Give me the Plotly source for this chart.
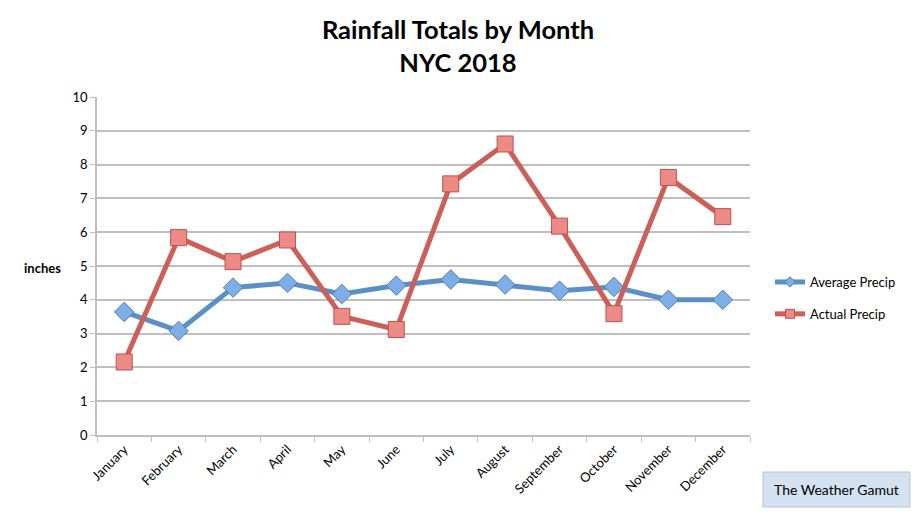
import plotly.graph_objects as go

months = ["January", "February", "March", "April", "May", "June", "July",
          "August", "September", "October", "November", "December"]
average_precip = [3.64, 3.08, 4.36, 4.50, 4.17, 4.42, 4.60, 4.45, 4.27, 4.38, 4.00, 4.00]
actual_precip = [2.16, 5.84, 5.13, 5.77, 3.51, 3.12, 7.43, 8.61, 6.18, 3.59, 7.62, 6.46]
y_ticks = list(range(0, 11))

FONT = "Lato, 'Open Sans', sans-serif"
W, H = 911, 506           # page body has an 8px margin
L, T, R, B = 89, 89, 169, 79
PW, PH = W - L - R, H - T - B

def px(x):
    return (x - L) / PW

def py(y):
    return (H - B - y) / PH

BLUE_LINE, BLUE_FILL, BLUE_EDGE = "#5b8fc7", "#7eaee6", "#4f7fb8"
RED_LINE, RED_FILL, RED_EDGE = "#cc5f58", "#ec8b86", "#c0504d"

fig = go.Figure()
fig.add_trace(go.Scatter(
    x=months, y=average_precip, name="Average Precip", mode="lines+markers",
    showlegend=False,
    line=dict(color=BLUE_LINE, width=5),
    marker=dict(symbol="diamond", size=15, color=BLUE_FILL,
                line=dict(color=BLUE_EDGE, width=1)),
))
fig.add_trace(go.Scatter(
    x=months, y=actual_precip, name="Actual Precip", mode="lines+markers",
    showlegend=False,
    line=dict(color=RED_LINE, width=5),
    marker=dict(symbol="square", size=16, color=RED_FILL,
                line=dict(color=RED_EDGE, width=1)),
))
# legend entries with smaller markers
fig.add_trace(go.Scatter(
    x=[None], y=[None], name="Average Precip", mode="lines+markers",
    legendgroup="a", line=dict(color=BLUE_LINE, width=5),
    marker=dict(symbol="diamond", size=8, color=BLUE_FILL,
                line=dict(color=BLUE_EDGE, width=1)),
))
fig.add_trace(go.Scatter(
    x=[None], y=[None], name="Actual Precip", mode="lines+markers",
    legendgroup="b", line=dict(color=RED_LINE, width=5),
    marker=dict(symbol="square", size=9, color=RED_FILL,
                line=dict(color=RED_EDGE, width=1)),
))

fig.update_layout(
    width=W, height=H,
    margin=dict(l=L, r=R, t=T, b=B),
    paper_bgcolor="white", plot_bgcolor="white",
    font=dict(family=FONT, size=13, color="black"),
    title=dict(text="<b>Rainfall Totals by Month<br>NYC 2018</b>",
               x=450 / W, xref="container", xanchor="center",
               y=1 - 31 / H, yref="container", yanchor="top",
               font=dict(family=FONT, size=25.5, color="black")),
    showlegend=True,
    legend=dict(x=px(762), y=py(290), xanchor="left", yanchor="middle",
                font=dict(family=FONT, size=13, color="black"),
                tracegroupgap=12, itemwidth=30,
                bgcolor="rgba(0,0,0,0)"),
    xaxis=dict(
        type="category", showgrid=False, showline=True, linecolor="#bfbfbf",
        linewidth=1.5, ticks="outside", tickson="boundaries", ticklen=5,
        tickcolor="#bfbfbf", tickangle=-45,
        tickfont=dict(family=FONT, size=13, color="black"),
        range=[-0.5, 11.5],
    ),
    yaxis=dict(
        range=[0, 10], tickvals=y_ticks, showgrid=True, gridcolor="#bfbfbf",
        gridwidth=1.5, showline=True, linecolor="#bfbfbf", linewidth=1.5,
        ticks="outside", ticklen=5, tickcolor="#bfbfbf", zeroline=False,
        tickfont=dict(family=FONT, size=13, color="black"),
    ),
)

fig.add_annotation(text="<b>inches</b>", xref="paper", yref="paper",
                   x=px(34), y=py(260), xanchor="center", yanchor="middle",
                   showarrow=False, font=dict(family=FONT, size=13, color="black"))

# watermark box
fig.add_shape(type="rect", xref="paper", yref="paper",
              x0=px(755), x1=px(902), y0=py(499), y1=py(464),
              fillcolor="#d4e1f1", line=dict(color="#b9c4d0", width=1))
fig.add_annotation(text="The Weather Gamut", xref="paper", yref="paper",
                   x=px(828.5), y=py(481.5),
                   xanchor="center", yanchor="middle", showarrow=False,
                   font=dict(family=FONT, size=14, color="black"))

fig.write_html("out.html")
